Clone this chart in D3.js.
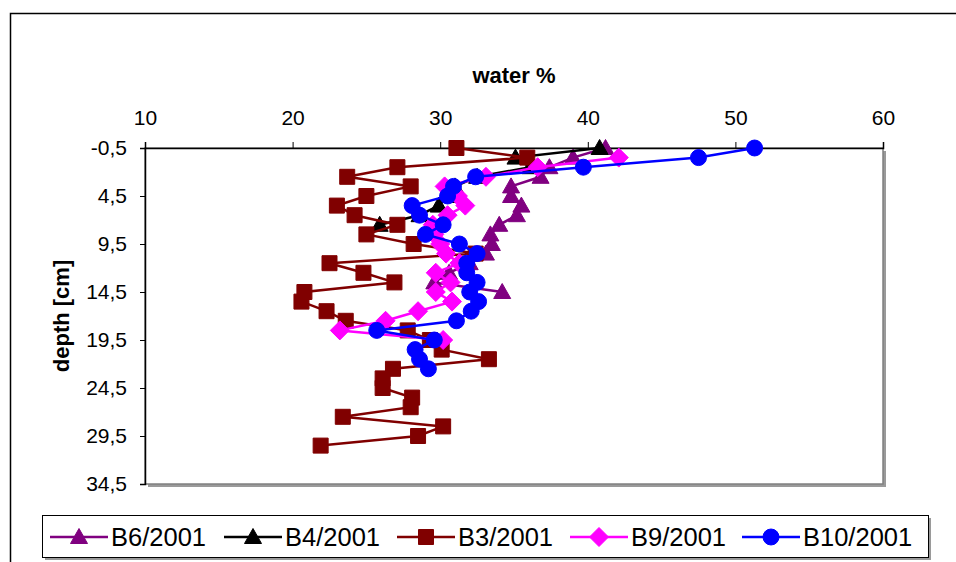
<!DOCTYPE html>
<html><head><meta charset="utf-8">
<script src="https://cdn.jsdelivr.net/npm/d3@7"></script>
<style>body{margin:0;background:#fff}svg{display:block}text{font-family:"Liberation Sans",Arial,sans-serif}</style>
</head><body>
<svg id="c" width="956" height="562"></svg>
<script>
const xTicks = [10, 20, 30, 40, 50, 60];
const yTicks = [-0.5, 4.5, 9.5, 14.5, 19.5, 24.5, 29.5, 34.5];

const b6Depth = [-0.5,0.5,1.5,2.5,3.5,4.5,5.5,6.5,7.5,8.5,9.5,10.5,11.5,12.5,13.5,14.5];
const b6Water = [41.2,39.0,37.4,36.8,34.8,34.8,35.5,35.2,34.0,33.4,33.5,33.1,32.0,30.6,29.6,34.2];

const b4Depth = [-0.5,0.5,1.5,2.5,3.5,4.5,5.5,6.5,7.5];
const b4Water = [40.8,35.1,36.1,32.5,31.0,30.5,29.9,28.6,25.9];

const b3Depth = [-0.5,0.5,1.5,2.5,3.5,4.5,5.5,6.5,7.5,8.5,9.5,10.5,11.5,12.5,13.5,14.5,15.5,16.5,17.5,18.5,19.5,20.5,21.5,22.5,23.5,24.5,25.5,26.5,27.5,28.5,29.5,30.5];
const b3Water = [31.1,35.9,27.1,23.7,28.0,25.0,23.0,24.2,27.1,25.0,28.2,32.4,22.5,24.8,26.9,20.8,20.6,22.3,23.6,27.8,29.3,30.1,33.3,26.8,26.1,26.1,28.1,28.0,23.4,30.2,28.5,21.9];

const b9Depth = [0.5,1.5,2.5,3.5,4.5,5.5,6.5,7.5,8.5,9.5,10.5,11.5,12.5,13.5,14.5,15.5,16.5,17.5,18.5,19.5];
const b9Water = [42.1,36.6,33.1,30.3,31.2,31.7,30.5,29.5,29.6,30.0,30.4,31.3,29.7,30.7,29.7,30.8,28.5,26.3,23.2,30.2];

const b10Depth = [-0.5,0.5,1.5,2.5,3.5,4.5,5.5,6.5,7.5,8.5,9.5,10.5,11.5,12.5,13.5,14.5,15.5,16.5,17.5,18.5,19.5,20.5,21.5,22.5];
const b10Water = [51.3,47.5,39.7,32.4,30.9,30.5,28.1,28.6,30.2,29.0,31.3,32.5,31.8,31.8,32.5,32.0,32.6,32.1,31.1,25.7,29.6,28.3,28.6,29.2];

const seriesNames = ["B6/2001","B4/2001","B3/2001","B9/2001","B10/2001"];
const seriesColors = ["#800080","#000000","#800000","#FF00FF","#0000FF"];
const seriesShapes = ["triangle","triangle","square","diamond","circle"];
const seriesWater = [b6Water,b4Water,b3Water,b9Water,b10Water];
const seriesDepth = [b6Depth,b4Depth,b3Depth,b9Depth,b10Depth];

const svg = d3.select("#c");
const L = 145, R = 883, T = 148, B = 484;
const x = d3.scaleLinear().domain([10,60]).range([L,R]);
const y = d3.scaleLinear().domain([-0.5,34.5]).range([T,B]);

// outer frame
svg.append("path").attr("d","M10.5,562 L10.5,13.5 L956,13.5").attr("fill","none").attr("stroke","#000").attr("stroke-width",1.5);

// plot area with shadow
svg.append("rect").attr("x",L+3).attr("y",T+3).attr("width",R-L).attr("height",B-T).attr("fill","#9a9a9a");
svg.append("rect").attr("x",L).attr("y",T).attr("width",R-L).attr("height",B-T).attr("fill","#fff").attr("stroke","#808080").attr("stroke-width",1.5);

// axes
const xAxis = d3.axisTop(x).tickValues(xTicks).tickSize(6).tickPadding(17).tickFormat(d3.format("d"));
const gx = svg.append("g").attr("transform",`translate(0,${T})`).call(xAxis);
gx.select(".domain").attr("stroke","#000").attr("stroke-width",1.5);
gx.selectAll("text").attr("font-size",21).attr("fill","#000");

const yAxis = d3.axisLeft(y).tickValues(yTicks).tickSize(5).tickPadding(13).tickFormat(d => String(d).replace(".",","));
const gy = svg.append("g").attr("transform",`translate(${L},0)`).call(yAxis);
gy.select(".domain").attr("stroke","#000").attr("stroke-width",1.5);
gy.selectAll("text").attr("font-size",21).attr("fill","#000");

svg.append("text").attr("x",514).attr("y",83).attr("text-anchor","middle").attr("font-size",22).attr("font-weight","bold").text("water %");
svg.append("text").attr("transform","translate(69,316) rotate(-90)").attr("text-anchor","middle").attr("font-size",22).attr("font-weight","bold").text("depth [cm]");

function markerPath(shape){
  if(shape==="triangle") return "M0,-8.5 L8.5,6.5 L-8.5,6.5 Z";
  if(shape==="square") return "M-7.5,-7.5 H7.5 V7.5 H-7.5 Z";
  if(shape==="diamond") return "M0,-9.5 L9.5,0 L0,9.5 L-9.5,0 Z";
  return d3.symbol().type(d3.symbolCircle).size(200)();
}

const line = d3.line().x(d=>x(d[0])).y(d=>y(d[1]));
seriesNames.forEach((name,i)=>{
  const pts = seriesWater[i].map((w,j)=>[w, seriesDepth[i][j]]);
  const g = svg.append("g");
  g.append("path").attr("d",line(pts)).attr("fill","none").attr("stroke",seriesColors[i]).attr("stroke-width",2.5);
  g.selectAll("path.m").data(pts).enter().append("path").attr("class","m")
    .attr("d",markerPath(seriesShapes[i]))
    .attr("transform",d=>`translate(${x(d[0])},${y(d[1])})`)
    .attr("fill",seriesColors[i]).attr("stroke",seriesColors[i]).attr("stroke-width",1);
});

// legend
svg.append("rect").attr("x",45).attr("y",518).attr("width",886).attr("height",42).attr("fill","#9a9a9a");
svg.append("rect").attr("x",42.5).attr("y",515.5).attr("width",886).attr("height",42).attr("fill","#fff").attr("stroke","#000").attr("stroke-width",1);
const legX = [50, 224, 397, 570, 742];
const ly = 537;
seriesNames.forEach((name,i)=>{
  const g = svg.append("g").attr("transform",`translate(${legX[i]},${ly})`);
  g.append("line").attr("x1",0).attr("x2",58).attr("y1",0).attr("y2",0).attr("stroke",seriesColors[i]).attr("stroke-width",2.5);
  g.append("path").attr("d",markerPath(seriesShapes[i])).attr("transform","translate(29,0)").attr("fill",seriesColors[i]).attr("stroke",seriesColors[i]);
  g.append("text").attr("x",61).attr("y",9).attr("font-size",25.5).attr("fill","#000").text(name);
});
</script>
</body></html>
